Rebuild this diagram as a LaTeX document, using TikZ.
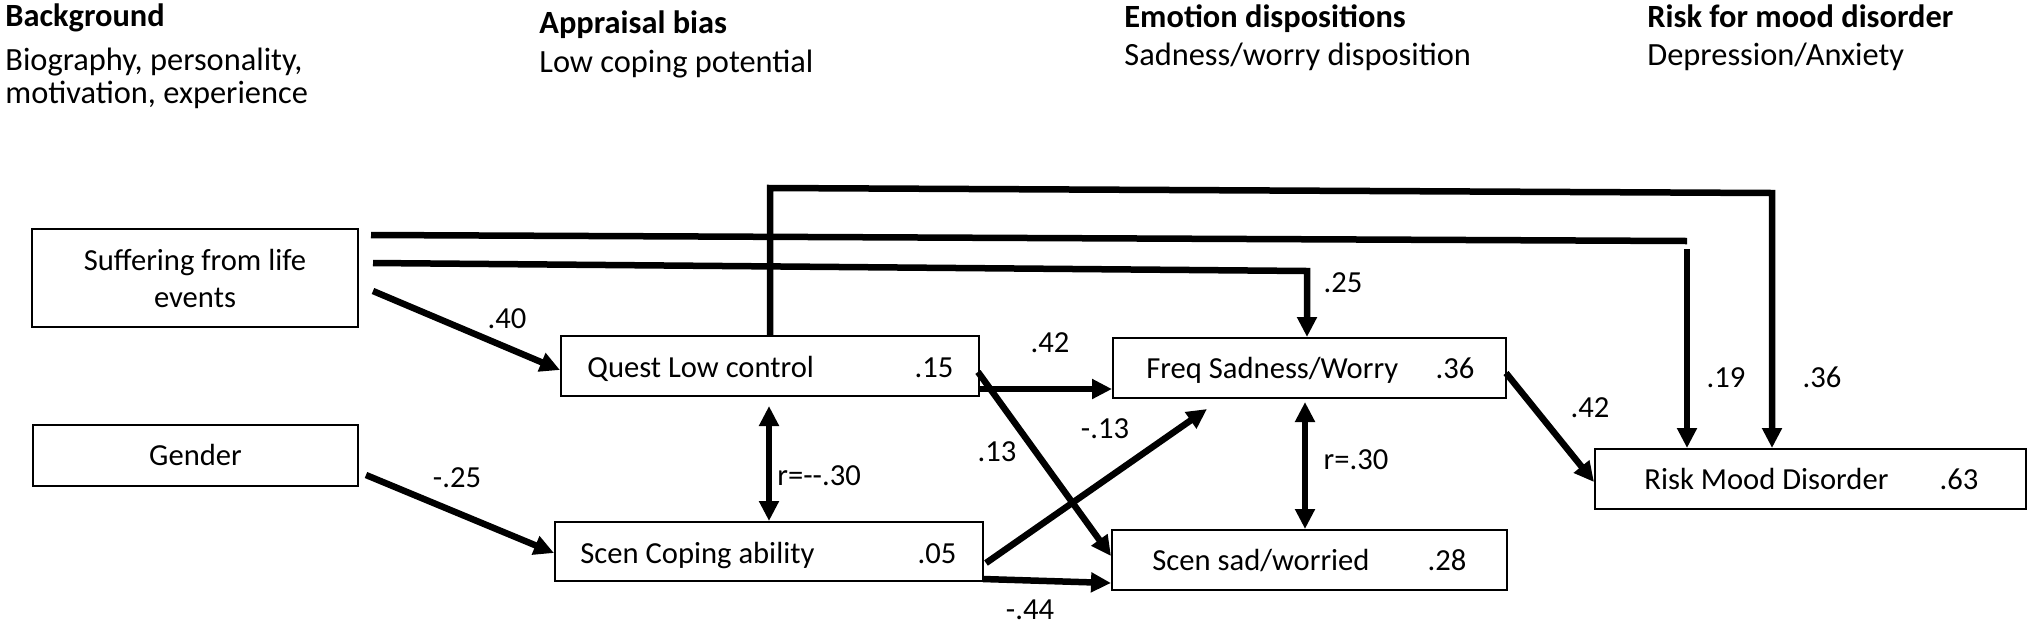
\documentclass[tikz,border=0pt]{standalone}
\usepackage{fontspec}
\setmainfont{Carlito}
\usetikzlibrary{arrows.meta,calc}
\begin{document}
\begin{tikzpicture}[x=0.5pt,y=-0.5pt,
  every node/.style={font=\fontsize{15.3}{18.5}\selectfont, inner sep=0pt},
  box/.style={draw, line width=1pt, inner sep=0pt, align=center},
  conn/.style={line width=3.25pt},
  arr/.style={conn,-{Triangle[length=10pt,width=9.5pt]}},
  darr/.style={conn,{Triangle[length=10pt,width=9.5pt]}-{Triangle[length=10pt,width=9.5pt]}},
  hdr/.style={anchor=base west, font=\fontsize{16.2}{19.5}\selectfont\bfseries},
  sub/.style={anchor=base west, font=\fontsize{16.2}{19.5}\selectfont},
  txt/.style={anchor=base west},
  val/.style={anchor=base},
  lab/.style={anchor=center}]
\useasboundingbox (0,0) rectangle (2032,622);

% headers
\node[hdr] (h1) at (5,26) {Background};
\node[sub] (h1a) at (5,70) {Biography, personality,};
\node[sub] (h1b) at (5,103) {motivation, experience};
\node[hdr] (h2) at (539,33) {Appraisal bias};
\node[sub] (h2a) at (539,72) {Low coping potential};
\node[hdr] (h3) at (1124,27) {Emotion dispositions};
\node[sub] (h3a) at (1124,65) {Sadness/worry disposition};
\node[hdr] (h4) at (1647,27) {Risk for mood disorder};
\node[sub] (h4a) at (1647,65) {Depression/Anxiety};

% boxes
\node[box, minimum width=163pt, minimum height=49pt] (suf) at (195,278) {Suffering from life\\events};
\node[box, minimum width=162.5pt, minimum height=30.5pt] (gen) at (195.5,455) {Gender};
\node[box, minimum width=209pt, minimum height=30pt] (quest) at (770,366) {};
\node[box, minimum width=214pt, minimum height=29.5pt] (cope) at (769,551.5) {};
\node[box, minimum width=196.5pt, minimum height=30pt] (freq) at (1309.5,368) {};
\node[box, minimum width=197.5pt, minimum height=30pt] (sad) at (1309.5,560) {};
\node[box, minimum width=215.5pt, minimum height=30pt] (risk) at (1810.5,479) {};

% box texts
\node[txt] (questT) at (587,377) {Quest Low control};
\node[val] (questV) at (934,377) {.15};
\node[txt] (copeT) at (580,563.5) {Scen Coping ability};
\node[val] (copeV) at (937,563.5) {.05};
\node[txt] (freqT) at (1146,378.5) {Freq Sadness/Worry};
\node[val] (freqV) at (1455,378.5) {.36};
\node[txt] (sadT) at (1152,570.5) {Scen sad/worried};
\node[val] (sadV) at (1447,570.5) {.28};
\node[txt] (riskT) at (1644,489.5) {Risk Mood Disorder};
\node[val] (riskV) at (1959,489.5) {.63};

% coordinates
\coordinate (s1) at (371,235);
\coordinate (s1c) at (1687,241);
\coordinate (s1d) at (1687,249);
\coordinate (s2) at (373,263);
\coordinate (s2c) at (1307,271);
\coordinate (s3) at (373,291);
\coordinate (qt) at (770,188);
\coordinate (qtc) at (1772,193);
\coordinate (q2) at (979,389);
\coordinate (q3) at (978,372);
\coordinate (g1) at (366,475);
\coordinate (qc) at (769,406);
\coordinate (fs) at (1305,402);
\coordinate (c1) at (986,563);
\coordinate (c1e) at (1207,409);
\coordinate (c2) at (983,579);
\coordinate (f1) at (1506,373);

% connectors
\draw[conn] (s1) -- (s1c);
\draw[arr] (s1d) -- (s1d |- risk.north);
\draw[arr] (s2) -- (s2c) -- (s2c |- freq.north);
\draw[arr] (s3) -- ($(quest.west)+(0,4)$);
\draw[arr] (quest.north) -- (qt) -- (qtc) -- (qtc |- risk.north);
\draw[arr] (q2) -- (q2 -| freq.west);
\draw[arr] (q3) -- ($(sad.west)+(0,-4)$);
\draw[arr] (g1) -- ($(cope.west)+(0,1.5)$);
\draw[darr] (qc) -- (qc |- cope.north);
\draw[darr] (fs) -- (fs |- sad.north);
\draw[arr] (c1) -- (c1e);
\draw[arr] (c2) -- ($(sad.west)+(0,23)$);
\draw[arr] (f1) -- ($(risk.west)+(0,3)$);

% labels
\node[lab] (l40) at (507,319) {.40};
\node[lab] (l25a) at (1343,283) {.25};
\node[lab] (l42a) at (1050,343) {.42};
\node[lab] (l13a) at (997,452) {.13};
\node[lab] (l13b) at (1105,429) {-.13};
\node[lab] (l25b) at (457,478) {-.25};
\node[lab, anchor=west] (lr1) at (777,476) {r=-{}-.30};
\node[lab] (lr2) at (1356,460) {r=.30};
\node[lab] (l44) at (1030,610) {-.44};
\node[lab] (l42b) at (1590,408) {.42};
\node[lab] (l19) at (1726,378) {.19};
\node[lab] (l36) at (1822,377) {.36};
\end{tikzpicture}
\end{document}
